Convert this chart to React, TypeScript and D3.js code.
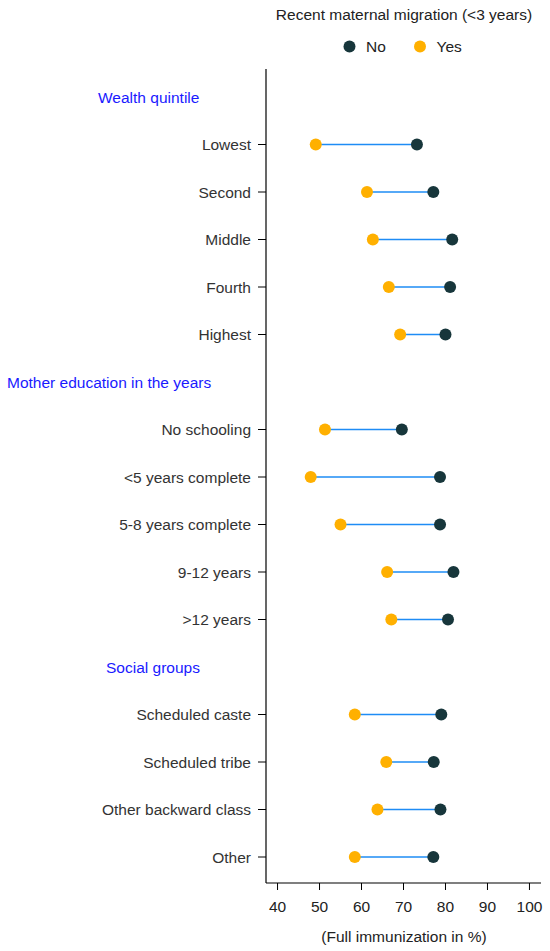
import React from 'react'
import * as d3 from 'd3'

// rows top to bottom; headers are group titles (no dots)
const rowLabels = [
  'Wealth quintile', 'Lowest', 'Second', 'Middle', 'Fourth', 'Highest',
  'Mother education in the years', 'No schooling', '<5 years complete', '5-8 years complete', '9-12 years', '>12 years',
  'Social groups', 'Scheduled caste', 'Scheduled tribe', 'Other backward class', 'Other'
]
const headerRows = ['Wealth quintile', 'Mother education in the years', 'Social groups']
const headerX = [98, 7, 106]

const categories = [
  'Lowest', 'Second', 'Middle', 'Fourth', 'Highest',
  'No schooling', '<5 years complete', '5-8 years complete', '9-12 years', '>12 years',
  'Scheduled caste', 'Scheduled tribe', 'Other backward class', 'Other'
]
const noValues = [73.2, 77.1, 81.6, 81.1, 80.0, 69.6, 78.7, 78.7, 81.9, 80.6, 79.0, 77.2, 78.8, 77.1]
const yesValues = [49.1, 61.3, 62.7, 66.5, 69.2, 51.3, 47.9, 55.0, 66.1, 67.1, 58.4, 65.9, 63.8, 58.4]
const xTicks = [40, 50, 60, 70, 80, 90, 100]

const NO_COLOR = '#17363b'
const YES_COLOR = '#ffb000'
const LINE_COLOR = '#1e8cf5'
const FONT = 'Arial, "Liberation Sans", sans-serif'
const FS = 15.5

export default function App() {
  const width = 550
  const height = 951
  const x = d3.scaleLinear().domain([37.25, 102.75]).range([266, 541])
  const y = d3.scalePoint<string>().domain(rowLabels).range([97, 857])
  const axisTop = 69
  const axisBottom = 883

  return (
    <svg width={width} height={height} style={{ position: 'absolute', left: 0, top: 0, background: '#fff' }}
      fontFamily={FONT}>
      {/* legend */}
      <text x={404} y={20} textAnchor="middle" fontSize={FS} fill="#222">Recent maternal migration (&lt;3 years)</text>
      <circle cx={349.5} cy={46.5} r={6} fill={NO_COLOR} />
      <text x={366} y={52} fontSize={FS} fill="#222">No</text>
      <circle cx={420} cy={46.5} r={6} fill={YES_COLOR} />
      <text x={436.5} y={52} fontSize={FS} fill="#222">Yes</text>

      {/* axes */}
      <line x1={266} x2={266} y1={axisTop} y2={axisBottom} stroke="#000" strokeWidth={1.2} />
      <line x1={266} x2={541} y1={axisBottom} y2={axisBottom} stroke="#000" strokeWidth={1.2} />
      {xTicks.map(t => (
        <g key={t} transform={`translate(${x(t)},${axisBottom})`}>
          <line y1={0} y2={7} stroke="#000" strokeWidth={1} />
          <text y={29} textAnchor="middle" fontSize={FS} fill="#222">{t}</text>
        </g>
      ))}
      <text x={404} y={942} textAnchor="middle" fontSize={FS} fill="#222">(Full immunization in %)</text>

      {/* group headers */}
      {headerRows.map((h, i) => (
        <text key={h} x={headerX[i]} y={(y(h) || 0) + 5.5} fontSize={FS} fill="#1a1aff">{h}</text>
      ))}

      {/* category ticks and labels */}
      {categories.map(c => (
        <g key={c} transform={`translate(0,${y(c)})`}>
          <line x1={258} x2={266} stroke="#000" strokeWidth={1} />
          <text x={251} y={5.5} textAnchor="end" fontSize={FS} fill="#333">{c}</text>
        </g>
      ))}

      {/* dumbbells */}
      {categories.map((c, i) => {
        const cy = y(c) || 0
        return (
          <g key={c + '-d'}>
            <line x1={x(yesValues[i])} x2={x(noValues[i])} y1={cy} y2={cy} stroke={LINE_COLOR} strokeWidth={1.5} />
            <circle cx={x(noValues[i])} cy={cy} r={6} fill={NO_COLOR} />
            <circle cx={x(yesValues[i])} cy={cy} r={6} fill={YES_COLOR} />
          </g>
        )
      })}
    </svg>
  )
}
